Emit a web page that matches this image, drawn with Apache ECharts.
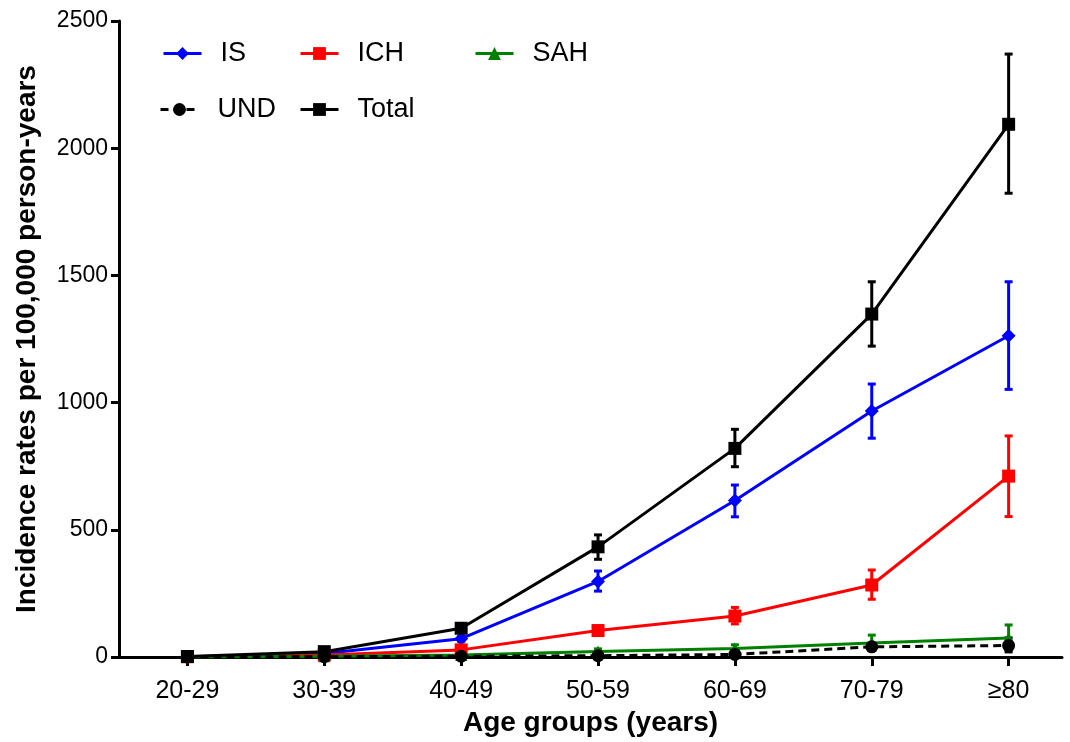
<!DOCTYPE html>
<html>
<head>
<meta charset="utf-8">
<script src="https://cdn.jsdelivr.net/npm/echarts@6/dist/echarts.min.js"></script>
<style>
  html, body { margin: 0; padding: 0; background: #fff; }
  #chart { width: 1070px; height: 742px; }
</style>
</head>
<body>
<div id="chart"></div>
<script>
const categories = ["20-29", "30-39", "40-49", "50-59", "60-69", "70-79", "\u226580"];

const isVals = [1, 14, 72, 297, 615, 967, 1263];
const isLow = [0, 10, 62, 259, 551, 860, 1052];
const isHigh = [2, 18, 82, 338, 676, 1073, 1475];

const ichVals = [1, 8, 28, 104, 161, 283, 711];
const ichLow = [0, 5, 20, 88, 130, 227, 552];
const ichHigh = [2, 11, 36, 120, 195, 342, 869];

const sahVals = [0, 3, 8, 22, 33, 55, 75];
const sahLow = [0, 1, 4, 12, 20, 30, 28];
const sahHigh = [1, 6, 13, 32, 48, 86, 126];

const undVals = [0, 1, 3, 5, 10, 40, 45];
const undLow = [0, 0, 1, 2, 5, 28, 20];
const undHigh = [1, 2, 6, 9, 16, 52, 75];

const totalVals = [2, 21, 113, 433, 820, 1348, 2094];
const totalLow = [0, 17, 103, 384, 748, 1222, 1823];
const totalHigh = [4, 25, 123, 480, 895, 1475, 2370];

const yTicks = [0, 500, 1000, 1500, 2000, 2500];

const FONT = "Liberation Sans, Arial, sans-serif";

function toPoints(vals) {
  return vals.map((v, i) => [i, v]);
}

// error bars drawn from the axis coordinates
function errorBars(name, color, low, high) {
  return {
    name: name + " err",
    type: "custom",
    silent: true,
    z: 1,
    data: low.map((v, i) => [i, v, high[i]]),
    encode: { x: 0, y: [1, 2] },
    renderItem: (params, api) => {
      const x = api.value(0);
      const a = api.coord([x, api.value(1)]);
      const b = api.coord([x, api.value(2)]);
      const w = 4;
      const style = { stroke: color, lineWidth: 3 };
      return {
        type: "group",
        children: [
          { type: "line", shape: { x1: a[0], y1: a[1], x2: b[0], y2: b[1] }, style },
          { type: "line", shape: { x1: a[0] - w, y1: a[1], x2: a[0] + w, y2: a[1] }, style },
          { type: "line", shape: { x1: b[0] - w, y1: b[1], x2: b[0] + w, y2: b[1] }, style },
        ],
      };
    },
  };
}

function lineSeries(name, color, vals, symbol, size, dashed) {
  return {
    name: name,
    type: "line",
    z: 3,
    data: toPoints(vals),
    symbol: symbol,
    symbolSize: size,
    showAllSymbol: true,
    itemStyle: { color: color },
    lineStyle: { color: color, width: 3, type: dashed ? [8, 5] : "solid" },
  };
}

function legendAt(name, left, top) {
  return {
    data: [name],
    left: left,
    top: top,
    padding: 0,
    itemWidth: 38,
    itemHeight: 16,
    selectedMode: false,
    lineStyle: { width: 3 },
    textStyle: { fontFamily: FONT, fontSize: 27, color: "#000", padding: [0, 0, 0, 14] },
  };
}

const chart = echarts.init(document.getElementById("chart"));

const option = {
  animation: false,
  backgroundColor: "#fff",
  legend: [
    legendAt("IS", 162, 40),
    legendAt("ICH", 299, 40),
    legendAt("SAH", 474, 40),
    legendAt("UND", 159, 96),
    legendAt("Total", 299, 96),
  ],
  grid: { left: 119, right: 8, top: 21, bottom: 85 },
  xAxis: {
    type: "value",
    min: -0.5,
    max: 6.39,
    name: "Age groups (years)",
    nameLocation: "middle",
    nameGap: 51,
    nameTextStyle: { fontFamily: FONT, fontSize: 28, fontWeight: "bold", color: "#000" },
    splitLine: { show: false },
    axisLine: { show: true, onZero: false, lineStyle: { color: "#000", width: 3 } },
    axisTick: {
      show: true,
      length: 9,
      lineStyle: { color: "#000", width: 3 },
      customValues: categories.map((c, i) => i),
    },
    axisLabel: {
      fontFamily: FONT,
      fontSize: 25,
      color: "#000",
      margin: 22,
      customValues: categories.map((c, i) => i),
      formatter: (v) => categories[Math.round(v)],
    },
  },
  yAxis: {
    type: "value",
    min: 0,
    max: 2500,
    interval: 500,
    name: "Incidence rates per 100,000 person-years",
    nameLocation: "middle",
    nameGap: 78,
    nameTextStyle: { fontFamily: FONT, fontSize: 28, fontWeight: "bold", color: "#000" },
    splitLine: { show: false },
    axisLine: { show: true, onZero: false, lineStyle: { color: "#000", width: 3 } },
    axisTick: { show: true, length: 8, lineStyle: { color: "#000", width: 3 } },
    axisLabel: {
      fontFamily: FONT,
      fontSize: 23,
      color: "#000",
      margin: 11,
      formatter: (v) => (yTicks.includes(v) ? String(v) : ""),
    },
  },
  series: [
    errorBars("IS", "#0000ff", isLow, isHigh),
    errorBars("ICH", "#ff0000", ichLow, ichHigh),
    errorBars("SAH", "#008000", sahLow, sahHigh),
    errorBars("UND", "#000000", undLow, undHigh),
    errorBars("Total", "#000000", totalLow, totalHigh),
    lineSeries("IS", "#0000ff", isVals, "diamond", 14, false),
    lineSeries("ICH", "#ff0000", ichVals, "rect", 13, false),
    lineSeries("SAH", "#008000", sahVals, "triangle", 12, false),
    lineSeries("UND", "#000000", undVals, "circle", 13, true),
    lineSeries("Total", "#000000", totalVals, "rect", 13, false),
  ],
};

chart.setOption(option);
</script>
</body>
</html>
